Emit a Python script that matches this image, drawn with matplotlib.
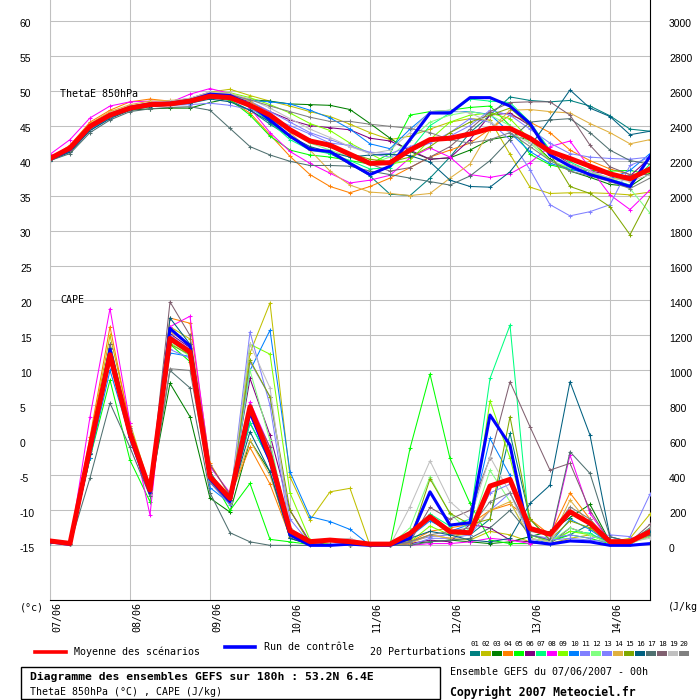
import matplotlib
matplotlib.use('Agg')
import matplotlib.pyplot as plt
from matplotlib.patches import Rectangle
from matplotlib.lines import Line2D
from matplotlib.transforms import ScaledTranslation, blended_transform_factory

plt.rcParams['font.family'] = ['Liberation Sans', 'DejaVu Sans']
MONO = ['DejaVu Sans Mono', 'DejaVu Sans']

# time axis: every 6h over 180h
hours = list(range(0, 181, 6))
day_hours = list(range(0, 169, 24))
date_labels = ['07/06', '08/06', '09/06', '10/06', '11/06', '12/06', '13/06', '14/06']

# ThetaE 850hPa (°C)
mean_theta = [40.3, 41.8, 44.9, 46.5, 47.5, 48.0, 48.1, 48.5, 49.2, 49.0,
              47.9, 46.5, 44.4, 42.8, 42.2, 40.9, 39.6, 39.7, 41.5, 43.0,
              43.2, 43.8, 44.6, 44.6, 43.2, 41.3, 40.3, 39.2, 38.1, 37.4, 38.8]
ctrl_theta = [40.2, 41.6, 44.8, 46.5, 47.6, 48.1, 48.2, 48.6, 49.5, 49.3,
              48.0, 45.8, 43.5, 41.6, 41.3, 39.6, 38.0, 39.2, 43.0, 46.8,
              46.8, 49.0, 49.0, 47.8, 45.3, 40.8, 39.2, 38.0, 37.2, 36.3, 40.6]
theta_01 = [40.1, 41.3, 44.6, 46.3, 47.3, 47.8, 48.0, 48.3, 49.0, 48.6, 47.2, 45.2, 43.4, 41.8, 41.0, 39.5,
            37.8, 35.2, 35.0, 37.5, 40.5, 44.0, 46.5, 49.1, 48.6, 48.4, 48.6, 47.8, 46.4, 44.5, 44.2]
theta_02 = [40.4, 42.0, 45.2, 46.8, 47.8, 48.2, 48.4, 48.9, 49.8, 50.2, 49.3, 48.5, 47.8, 47.0, 46.3, 45.2,
            44.0, 43.0, 43.5, 44.5, 45.5, 46.0, 45.8, 40.9, 36.2, 35.3, 35.4, 35.4, 35.3, 35.1, 35.5]
theta_03 = [40.0, 41.4, 44.5, 46.2, 47.2, 47.4, 47.5, 47.5, 48.3, 48.9, 48.7, 48.5, 48.1, 48.0, 47.9, 47.3,
            45.3, 43.2, 41.3, 40.2, 40.4, 41.5, 43.0, 43.5, 43.0, 40.2, 38.5, 37.6, 36.6, 36.3, 38.2]
theta_04 = [40.3, 42.2, 45.5, 47.2, 48.4, 48.8, 48.5, 48.6, 49.4, 48.6, 46.8, 43.7, 40.6, 38.0, 36.3, 35.4,
            36.3, 37.5, 39.0, 40.5, 41.5, 42.5, 44.5, 46.5, 45.5, 44.0, 41.5, 40.0, 38.8, 38.0, 38.3]
theta_05 = [40.2, 41.5, 44.6, 46.3, 47.4, 47.9, 48.0, 48.3, 49.2, 48.7, 46.5, 43.5, 41.5, 40.8, 40.5, 40.0,
            39.5, 41.0, 46.5, 47.0, 47.2, 47.6, 47.8, 45.0, 40.9, 39.4, 38.7, 38.6, 38.5, 38.6, 38.0]
theta_06 = [40.3, 41.8, 45.0, 46.7, 47.7, 48.2, 48.3, 48.6, 49.5, 49.3, 48.4, 47.0, 45.8, 45.0, 44.7, 44.4,
            43.2, 42.8, 41.5, 40.2, 40.4, 43.0, 46.5, 46.8, 45.0, 41.5, 39.5, 38.5, 38.0, 37.8, 40.4]
theta_07 = [40.2, 41.6, 44.7, 46.4, 47.5, 48.0, 48.1, 48.4, 49.3, 49.0, 47.6, 45.5, 43.0, 41.5, 41.0, 40.0,
            38.8, 39.0, 41.5, 45.0, 46.8, 48.8, 48.5, 48.3, 45.5, 41.5, 39.8, 38.5, 37.4, 36.5, 39.5]
theta_08 = [40.9, 43.0, 46.1, 47.8, 48.4, 48.5, 48.3, 49.5, 50.3, 49.6, 47.5, 44.0, 41.3, 39.6, 38.2, 36.8,
            37.2, 37.9, 40.4, 41.8, 40.5, 38.0, 37.6, 38.1, 39.7, 42.0, 42.8, 38.9, 35.1, 33.0, 35.8]
theta_09 = [40.3, 41.9, 45.0, 46.6, 47.7, 48.1, 48.3, 48.8, 49.6, 49.7, 49.0, 48.0, 46.8, 45.3, 44.3, 42.5,
            41.0, 39.5, 40.0, 43.0, 45.5, 46.5, 46.8, 46.0, 43.0, 40.0, 38.8, 38.2, 37.5, 37.2, 38.5]
theta_10 = [40.0, 41.3, 44.3, 46.1, 47.4, 48.0, 48.2, 48.6, 49.4, 49.2, 48.6, 48.4, 48.1, 47.2, 46.1, 44.5,
            42.4, 41.7, 44.5, 46.9, 47.0, 47.0, 46.6, 44.0, 41.3, 39.6, 38.8, 38.0, 37.4, 38.6, 41.0]
theta_11 = [40.1, 41.5, 44.5, 46.3, 47.3, 47.8, 47.9, 48.0, 48.2, 47.9, 47.3, 46.2, 45.0, 43.8, 42.5, 42.2,
            41.0, 40.5, 41.5, 42.5, 44.0, 46.0, 45.5, 43.0, 38.7, 33.7, 32.1, 32.7, 33.7, 39.3, 40.5]
theta_12 = [40.2, 41.6, 44.8, 46.5, 47.6, 48.1, 48.2, 48.5, 49.3, 49.0, 47.8, 46.0, 44.2, 42.5, 41.5, 40.5,
            39.5, 40.5, 43.0, 45.5, 46.5, 47.0, 46.5, 45.0, 42.5, 40.0, 39.0, 38.2, 37.5, 36.0, 32.5]
theta_13 = [40.2, 41.7, 44.9, 46.6, 47.7, 48.2, 48.5, 48.9, 49.8, 49.5, 48.5, 47.0, 45.5, 44.0, 43.0, 42.0,
            41.2, 41.0, 42.0, 43.0, 43.5, 45.0, 47.2, 46.5, 44.5, 42.5, 41.0, 40.5, 40.3, 40.2, 40.5]
theta_14 = [40.3, 42.0, 45.3, 47.0, 48.0, 48.5, 48.6, 48.8, 49.7, 49.6, 48.5, 46.5, 44.0, 41.5, 38.5, 36.5,
            35.5, 35.3, 35.0, 35.3, 37.5, 39.5, 44.4, 47.2, 47.3, 47.0, 46.8, 45.3, 44.0, 42.4, 43.0]
theta_15 = [40.1, 41.4, 44.6, 46.3, 47.4, 47.9, 48.1, 48.4, 49.2, 49.0, 47.8, 46.0, 44.5, 43.0, 42.0, 41.0,
            40.2, 39.8, 40.5, 42.0, 44.0, 45.5, 46.5, 47.5, 45.0, 41.0, 36.3, 35.3, 33.4, 29.4, 34.9]
theta_16 = [40.0, 41.2, 44.3, 46.0, 47.2, 47.7, 47.9, 48.2, 48.8, 48.4, 47.2, 45.5, 43.5, 42.0, 41.2, 40.5,
            40.8, 40.9, 40.7, 39.8, 37.2, 36.3, 36.2, 38.4, 42.0, 46.0, 50.1, 47.5, 46.3, 43.7, 44.2]
theta_17 = [40.0, 41.0, 44.0, 45.8, 47.0, 47.4, 47.6, 47.7, 47.2, 44.6, 42.0, 40.8, 39.9, 39.3, 39.3, 39.2,
            38.5, 38.0, 37.5, 37.0, 36.5, 37.8, 40.0, 43.0, 45.5, 45.8, 46.0, 44.0, 41.5, 40.0, 39.5]
theta_18 = [40.1, 41.5, 44.6, 46.3, 47.5, 48.0, 48.2, 48.5, 49.3, 49.0, 47.8, 46.0, 44.3, 43.0, 42.0, 41.0,
            39.5, 38.5, 39.0, 40.5, 42.0, 44.5, 47.0, 48.3, 48.4, 48.4, 46.5, 42.2, 39.1, 38.0, 38.0]
theta_19 = [40.3, 41.9, 45.1, 46.8, 47.8, 48.3, 48.5, 48.9, 49.8, 49.6, 48.8, 47.5, 46.0, 44.5, 43.3, 42.0,
            41.0, 41.5, 44.0, 47.0, 47.2, 46.8, 45.5, 44.0, 42.5, 41.0, 39.5, 38.5, 37.5, 37.0, 38.0]
theta_20 = [40.2, 41.7, 44.8, 46.5, 47.6, 48.1, 48.3, 48.7, 49.5, 49.4, 48.7, 47.8, 47.0, 46.2, 45.6, 45.6,
            45.2, 44.9, 44.6, 44.0, 43.0, 42.5, 43.0, 44.0, 42.0, 40.0, 38.5, 37.8, 37.0, 36.0, 37.5]

# CAPE (J/kg)
mean_cape = [25, 11, 560, 1090, 640, 316, 1183, 1106, 392, 268, 792, 506, 83, 21, 30, 21,
             7, 7, 68, 163, 78, 72, 339, 377, 97, 63, 192, 126, 21, 21, 78]
ctrl_cape = [20, 5, 540, 1120, 620, 300, 1240, 1140, 380, 250, 760, 480, 60, 0, 0, 7,
             0, 0, 40, 306, 116, 129, 745, 573, 21, 7, 25, 20, 0, 0, 10]
cape_01 = [20, 5, 520, 1150, 650, 300, 1200, 1100, 420, 250, 700, 480, 60, 10, 5, 0,
           0, 0, 60, 150, 70, 60, 150, 640, 150, 30, 60, 120, 10, 20, 60]
cape_02 = [20, 5, 600, 1200, 700, 330, 1250, 1180, 380, 260, 1100, 1386, 392, 145, 306, 326,
           0, 0, 20, 60, 40, 30, 80, 60, 20, 10, 40, 60, 20, 40, 179]
cape_03 = [20, 5, 500, 1050, 620, 310, 926, 735, 270, 190, 600, 420, 40, 5, 0, 0,
           0, 0, 10, 20, 30, 20, 10, 20, 50, 80, 159, 234, 20, 30, 60]
cape_04 = [20, 5, 620, 1250, 680, 300, 1300, 1270, 470, 280, 560, 350, 50, 5, 0, 0,
           0, 0, 20, 80, 100, 120, 200, 235, 150, 60, 300, 150, 20, 20, 50]
cape_05 = [20, 5, 500, 945, 487, 250, 1150, 1050, 400, 200, 354, 34, 20, 5, 0, 0,
           0, 0, 554, 979, 497, 240, 30, 10, 10, 20, 60, 40, 10, 15, 80]
cape_06 = [20, 5, 560, 1120, 660, 320, 1210, 1130, 400, 280, 954, 630, 200, 20, 5, 0,
           0, 0, 10, 30, 20, 120, 100, 30, 20, 10, 100, 60, 20, 20, 50]
cape_07 = [20, 5, 530, 1100, 640, 310, 1180, 1100, 400, 270, 700, 480, 60, 10, 0, 0,
           0, 0, 60, 180, 110, 150, 954, 1259, 60, 20, 80, 70, 10, 20, 100]
cape_08 = [25, 5, 735, 1354, 700, 173, 1250, 1310, 450, 300, 820, 560, 80, 10, 0, 0,
           0, 0, 0, 10, 10, 20, 40, 30, 10, 20, 516, 183, 20, 10, 70]
cape_09 = [20, 5, 560, 1100, 650, 300, 1170, 1090, 390, 240, 1150, 1093, 300, 30, 5, 0,
           0, 0, 20, 110, 60, 60, 826, 500, 60, 20, 80, 60, 10, 10, 60]
cape_10 = [15, 5, 500, 1000, 620, 300, 1100, 1080, 330, 240, 1000, 1230, 420, 164, 136, 91,
           0, 0, 50, 140, 80, 120, 611, 400, 40, 10, 150, 90, 10, 20, 90]
cape_11 = [20, 5, 520, 1080, 640, 300, 1200, 1120, 380, 250, 1220, 800, 80, 10, 0, 0,
           0, 0, 0, 40, 40, 60, 200, 300, 60, 40, 60, 40, 60, 50, 293]
cape_12 = [20, 5, 540, 1100, 650, 310, 1160, 1080, 370, 240, 1000, 600, 60, 5, 0, 0,
           0, 0, 100, 392, 180, 80, 429, 250, 40, 20, 100, 60, 10, 10, 50]
cape_13 = [20, 5, 530, 1050, 630, 300, 1120, 1070, 360, 230, 1050, 850, 150, 10, 0, 0,
           0, 0, 20, 50, 60, 80, 300, 350, 60, 30, 40, 30, 20, 30, 90]
cape_14 = [20, 5, 560, 1130, 660, 310, 1220, 1150, 410, 270, 600, 400, 50, 5, 0, 0,
           0, 0, 10, 60, 40, 80, 200, 250, 40, 20, 259, 120, 20, 10, 60]
cape_15 = [20, 5, 540, 1100, 640, 300, 1150, 1090, 390, 260, 1059, 849, 200, 10, 0, 0,
           0, 0, 30, 380, 183, 120, 150, 735, 150, 30, 140, 100, 10, 20, 80]
cape_16 = [20, 5, 520, 1130, 640, 310, 1300, 1150, 410, 260, 650, 420, 40, 5, 0, 0,
           0, 0, 40, 80, 60, 30, 20, 40, 240, 344, 935, 630, 49, 20, 80]
cape_17 = [15, 5, 385, 813, 560, 280, 1000, 900, 300, 72, 20, 0, 0, 0, 0, 0,
           0, 0, 0, 20, 30, 40, 100, 200, 60, 30, 535, 411, 49, 20, 60]
cape_18 = [20, 5, 560, 1150, 670, 320, 1392, 1200, 460, 290, 800, 560, 100, 10, 0, 0,
           0, 0, 20, 217, 150, 200, 500, 935, 678, 430, 469, 200, 20, 20, 120]
cape_19 = [20, 5, 540, 1100, 650, 310, 1170, 1100, 390, 250, 1150, 900, 100, 20, 30, 40,
           0, 0, 221, 483, 250, 150, 506, 300, 40, 20, 200, 120, 10, 20, 40]
cape_20 = [20, 5, 530, 1080, 640, 300, 1010, 1000, 360, 240, 750, 500, 60, 5, 0, 0,
           0, 0, 20, 60, 80, 100, 250, 300, 80, 60, 220, 150, 20, 20, 100]

pert_colors = ['#008080', '#c0c000', '#008000', '#ff8000', '#00ff00', '#800080', '#00ff80',
               '#ff00ff', '#80ff00', '#0080ff', '#8080ff', '#80ff80', '#8080ff', '#e0b040',
               '#80a800', '#006080', '#507070', '#806070', '#c0c0c0', '#808080']
pert_theta = [theta_01, theta_02, theta_03, theta_04, theta_05, theta_06, theta_07, theta_08, theta_09, theta_10,
              theta_11, theta_12, theta_13, theta_14, theta_15, theta_16, theta_17, theta_18, theta_19, theta_20]
pert_cape = [cape_01, cape_02, cape_03, cape_04, cape_05, cape_06, cape_07, cape_08, cape_09, cape_10,
             cape_11, cape_12, cape_13, cape_14, cape_15, cape_16, cape_17, cape_18, cape_19, cape_20]

W = H = 700
fig = plt.figure(figsize=(7, 7), dpi=100)


def fx(x):
    return x / W


def fy(y):
    return 1 - y / H


# main axes (pixel box 50..650 x 0..600)
ax = fig.add_axes([fx(50), fy(600), 600 / W, 600 / H])
ymin = -15 - (600 - 545.3) / 7
ymax = 60 + 20.7 / 7
ax.set_xlim(0, 180)
ax.set_ylim(ymin, ymax)
ax.set_xticks(day_hours)
ax.set_xticklabels([])
ax.set_yticks(range(-15, 61, 5))
ax.set_yticklabels([str(v) for v in range(-15, 61, 5)], fontsize=7.5)
ax.tick_params(axis='x', length=0)
ax.tick_params(axis='y', length=0, pad=21.6)
shift = ScaledTranslation(0, -0.025, fig.dpi_scale_trans)
for t in ax.get_yticklabels():
    t.set_horizontalalignment('left')
    t.set_transform(t.get_transform() + shift)
ax.grid(True, color='#c0c0c0', linewidth=0.75)
ax.set_axisbelow(True)
ax.spines['top'].set_visible(False)
ax.spines['left'].set_color('#c0c0c0')
ax.spines['left'].set_linewidth(0.75)
ax.spines['bottom'].set_color('black')
ax.spines['right'].set_color('black')

# CAPE on the right scale: 0 J/kg at -15, 3000 J/kg at 60
ax2 = ax.twinx()
ax2.set_ylim((ymin + 15) * 40, (ymax + 15) * 40)
ax2.set_yticks(range(0, 3001, 200))
ax2.set_yticklabels([str(v) for v in range(0, 3001, 200)], fontsize=7.5)
ax2.tick_params(axis='y', length=0, pad=13.7)
for t in ax2.get_yticklabels():
    t.set_transform(t.get_transform() + shift)
for s in ax2.spines.values():
    s.set_visible(False)

for c, th, cp in zip(pert_colors, pert_theta, pert_cape):
    ax.plot(hours, th, color=c, lw=0.75, marker='+', ms=3, mew=0.75)
    ax2.plot(hours, cp, color=c, lw=0.75, marker='+', ms=3, mew=0.75)
ax.plot(hours, ctrl_theta, color='#0000ff', lw=2.2)
ax.plot(hours, mean_theta, color='#ff0000', lw=3.6)
ax2.plot(hours, ctrl_cape, color='#0000ff', lw=2.2)
ax2.plot(hours, mean_cape, color='#ff0000', lw=3.6)

# date labels, rotated, just right of each day line
trans = blended_transform_factory(ax.transData, ax.transAxes) + ScaledTranslation(0.07, -0.02, fig.dpi_scale_trans)
for d, lab in zip(day_hours, date_labels):
    ax.text(d, 0, lab, transform=trans, rotation=90, ha='center', va='top',
            family=MONO, fontsize=7.2)

fig.text(fx(60), fy(94), 'ThetaE 850hPa', family=MONO, fontsize=7.2, va='center')
fig.text(fx(60), fy(300), 'CAPE', family=MONO, fontsize=7.2, va='center')
fig.text(fx(20), fy(607.5), '(°c)', family=MONO, fontsize=7.2, va='center')
fig.text(fx(668), fy(607.5), '(J/kg', family=MONO, fontsize=7.2, va='center')

# legend
fig.add_artist(Line2D([fx(35), fx(66)], [fy(652), fy(652)], color='#ff0000', lw=2.6))
fig.text(fx(74), fy(652), 'Moyenne des scénarios', family=MONO, fontsize=7.2, va='center')
fig.add_artist(Line2D([fx(225), fx(255)], [fy(647), fy(647)], color='#0000ff', lw=2.6))
fig.text(fx(264), fy(647), 'Run de contrôle', family=MONO, fontsize=7.2, va='center')
fig.text(fx(370), fy(652), '20 Perturbations', family=MONO, fontsize=7.2, va='center')
for k, c in enumerate(pert_colors):
    x0 = 470 + 11 * k
    fig.add_artist(Rectangle((fx(x0), fy(656)), 10 / W, 5.5 / H, transform=fig.transFigure,
                             facecolor=c, edgecolor='none'))
    fig.text(fx(x0 + 5), fy(643.5), '%02d' % (k + 1), family=MONO, fontsize=5.2,
             ha='center', va='center')

# title box
fig.add_artist(Rectangle((fx(21), fy(699)), (440 - 21) / W, (699 - 667) / H, transform=fig.transFigure,
                         fill=False, edgecolor='black', lw=1.0))
fig.text(fx(29.5), fy(677), 'Diagramme des ensembles GEFS sur 180h : 53.2N 6.4E',
         family=MONO, fontsize=8.2, fontweight='bold', va='center')
fig.text(fx(29.5), fy(692), 'ThetaE 850hPa (°C) , CAPE (J/kg)', family=MONO, fontsize=7.1, va='center')
fig.text(fx(449.5), fy(672), 'Ensemble GEFS du 07/06/2007 - 00h', family=MONO, fontsize=7.2, va='center')
fig.text(fx(449.5), fy(692), 'Copyright 2007 Meteociel.fr', family=MONO, fontsize=8.3,
         fontweight='bold', va='center')

fig.savefig('out.png', dpi=100)
